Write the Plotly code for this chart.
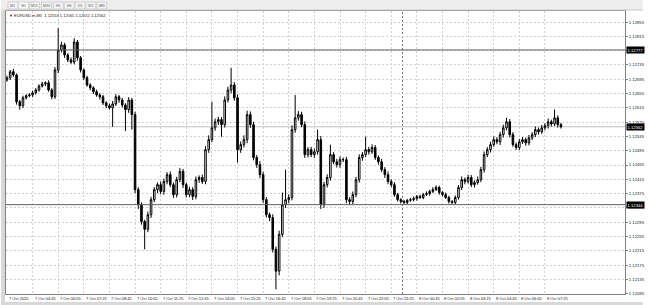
import plotly.graph_objects as go
import pandas as pd

# ---- data (EURUSD.m M5 chart, sampled as 10-minute candles) ----
# prices stored in points: price = 1 + pts / 100000
first_open_pts = 12693
close_pts = [
    12699, 12716, 12707, 12632, 12621, 12643, 12649, 12651, 12657, 12665,
    12676, 12682, 12685, 12665, 12646, 12721, 12777, 12791, 12763, 12749,
    12743, 12799, 12755, 12721, 12699, 12679, 12671, 12660, 12651, 12646,
    12629, 12621, 12615, 12626, 12646, 12637, 12623, 12610, 12637, 12596,
    12386, 12344, 12297, 12275, 12316, 12358, 12386, 12400, 12381, 12409,
    12428, 12400, 12372, 12414, 12437, 12400, 12372, 12386, 12367, 12414,
    12420, 12409, 12498, 12526, 12559, 12576, 12582, 12568, 12637, 12665,
    12679, 12643, 12498, 12512, 12526, 12596, 12568, 12476, 12456, 12428,
    12358, 12316, 12308, 12219, 12158, 12261, 12344, 12358, 12364, 12554,
    12587, 12596, 12568, 12484, 12498, 12484, 12492, 12526, 12344, 12400,
    12420, 12484, 12464, 12456, 12470, 12470, 12358, 12353, 12372, 12414,
    12476, 12484, 12498, 12492, 12504, 12476, 12464, 12442, 12428, 12409,
    12400, 12372, 12358, 12353, 12350, 12356, 12358, 12361, 12367, 12364,
    12372, 12375, 12381, 12386, 12392, 12378, 12372, 12364, 12353, 12350,
    12364, 12392, 12414, 12409, 12420, 12400, 12406, 12414, 12442, 12484,
    12498, 12512, 12526, 12520, 12540, 12559, 12576, 12540, 12512, 12504,
    12520, 12526, 12517, 12531, 12540, 12554, 12548, 12559, 12565, 12576,
    12570, 12587, 12568, 12562,
]
wick_hi = [
    6, 5, 8, 4, 5, 6, 4, 5, 6, 5,
    5, 6, 4, 7, 5, 8, 61, 9, 6, 5,
    7, 11, 6, 5, 4, 6, 5, 4, 6, 5,
    5, 4, 6, 8, 7, 5, 6, 5, 8, 6,
    8, 7, 6, 5, 9, 8, 7, 6, 9, 8,
    7, 9, 6, 8, 10, 7, 6, 8, 7, 9,
    6, 8, 10, 12, 73, 9, 8, 7, 10, 9,
    48, 8, 10, 9, 12, 11, 9, 8, 7, 10,
    8, 7, 6, 9, 8, 10, 34, 84, 9, 12,
    64, 10, 8, 9, 7, 8, 9, 28, 10, 8,
    9, 28, 7, 8, 9, 6, 8, 7, 9, 8,
    9, 7, 36, 8, 9, 7, 6, 8, 7, 9,
    6, 7, 5, 4, 5, 4, 5, 6, 4, 5,
    5, 6, 5, 7, 6, 5, 4, 6, 5, 4,
    6, 7, 9, 6, 8, 7, 6, 9, 8, 9,
    7, 8, 9, 7, 8, 9, 11, 8, 7, 6,
    8, 7, 6, 8, 7, 9, 6, 8, 7, 9,
    6, 23, 7, 5,
]
wick_lo = [
    5, 6, 5, 8, 11, 6, 5, 4, 6, 5,
    5, 4, 6, 5, 7, 6, 9, 7, 8, 6,
    5, 6, 8, 7, 6, 5, 7, 6, 5, 8,
    6, 7, 5, 53, 6, 8, 7, 60, 9, 42,
    10, 12, 9, 56, 8, 9, 7, 10, 8, 9,
    8, 7, 9, 8, 7, 9, 8, 7, 10, 8,
    9, 7, 8, 9, 7, 8, 9, 34, 8, 7,
    9, 8, 36, 9, 8, 10, 9, 8, 9, 10,
    9, 8, 10, 9, 51, 12, 8, 9, 10, 8,
    9, 8, 7, 9, 8, 7, 9, 8, 12, 9,
    8, 9, 7, 8, 9, 7, 10, 9, 8, 7,
    8, 9, 7, 8, 6, 7, 8, 7, 9, 8,
    7, 6, 5, 6, 4, 5, 4, 5, 6, 4,
    5, 4, 6, 5, 4, 6, 5, 4, 6, 5,
    5, 6, 7, 8, 6, 7, 8, 6, 7, 8,
    7, 8, 6, 7, 9, 8, 7, 8, 6, 7,
    7, 6, 8, 7, 6, 7, 8, 6, 7, 8,
    7, 6, 8, 5,
]
start_time = "2015-10-07 03:25"
bar_freq = "10min"

time_ticks_start = "2015-10-07 03:25"
time_tick_freq = "80min"
time_tick_labels = [
    "7 Oct 2015", "7 Oct 04:45", "7 Oct 06:05", "7 Oct 07:25", "7 Oct 08:45",
    "7 Oct 10:05", "7 Oct 11:25", "7 Oct 12:45", "7 Oct 14:05", "7 Oct 15:25",
    "7 Oct 16:45", "7 Oct 18:05", "7 Oct 19:25", "7 Oct 20:45", "7 Oct 22:05",
    "7 Oct 23:25", "8 Oct 00:45", "8 Oct 02:05", "8 Oct 03:25", "8 Oct 04:45",
    "8 Oct 06:05", "8 Oct 07:25",
]
price_ticks = [
    1.12855, 1.12815, 1.12775, 1.12735, 1.12695, 1.12655, 1.12615, 1.12575,
    1.12535, 1.12495, 1.12455, 1.12415, 1.12375, 1.12335, 1.12295, 1.12255,
    1.12215, 1.12175, 1.12135, 1.12095,
]
hlines = [1.12777, 1.12344]
bid_price = 1.12562
separator_time = "2015-10-08 00:00"
header_text = "\u25bc EURUSD.m,M5  1.12553 1.12565 1.12551 1.12562"
tabs = ["M1", "M5", "M15", "M30", "H1", "H4", "D1", "W1", "MN"]

# ---- build OHLC ----
closes = [1 + p / 1e5 for p in close_pts]
opens = [1 + first_open_pts / 1e5] + closes[:-1]
highs = [max(o, c) + w / 1e5 for o, c, w in zip(opens, closes, wick_hi)]
lows = [min(o, c) - w / 1e5 for o, c, w in zip(opens, closes, wick_lo)]
times = pd.date_range(start_time, periods=len(closes), freq=bar_freq)
tick_times = pd.date_range(time_ticks_start, periods=len(time_tick_labels), freq=time_tick_freq)

# ---- layout geometry (pixels) ----
FW, FH = 650, 305
L, R, T, B = 5, 632, 11, 294
PW, PH = R - L, B - T


def px(x):
    return (x - L) / PW


def py(y):
    return 1 - (y - T) / PH


FONT = "Liberation Sans"
TXT = "#202020"

fig = go.Figure()
fig.add_trace(go.Candlestick(
    x=times, open=opens, high=highs, low=lows, close=closes,
    increasing=dict(line=dict(color="#000000", width=1), fillcolor="#ffffff"),
    decreasing=dict(line=dict(color="#000000", width=1), fillcolor="#000000"),
    whiskerwidth=0, showlegend=False, hoverinfo="skip",
))

shapes = []
# horizontal user lines
for h in hlines:
    shapes.append(dict(type="line", xref="paper", x0=0, x1=1, yref="y", y0=h, y1=h,
                       line=dict(color="#606060", width=1), layer="above"))
# bid line
shapes.append(dict(type="line", xref="paper", x0=0, x1=1, yref="y", y0=bid_price, y1=bid_price,
                   line=dict(color="#c0c0c0", width=1), layer="below"))
# period separator
shapes.append(dict(type="line", xref="x", x0=separator_time, x1=separator_time, yref="paper", y0=0, y1=1,
                   line=dict(color="#707070", width=1, dash="2px,2px"), layer="below"))
# toolbar background
shapes.append(dict(type="rect", xref="paper", x0=px(0), x1=px(FW), yref="paper", y0=py(0), y1=py(10),
                   fillcolor="#eeeeee", line=dict(width=0), layer="below"))
shapes.append(dict(type="line", xref="paper", x0=px(0), x1=px(FW), yref="paper", y0=py(10), y1=py(10),
                   line=dict(color="#c8c8c8", width=1)))
# left gray border
shapes.append(dict(type="rect", xref="paper", x0=px(0), x1=px(4), yref="paper", y0=py(11), y1=py(305),
                   fillcolor="#d8d8d8", line=dict(width=0)))
# bottom gray band
shapes.append(dict(type="rect", xref="paper", x0=px(0), x1=px(FW), yref="paper", y0=py(302), y1=py(306),
                   fillcolor="#d8d8d8", line=dict(width=0)))

annotations = []
# tabs
tab_x = [7, 18, 29, 41, 53, 64, 75, 86, 97]
for i, (name, x0) in enumerate(zip(tabs, tab_x)):
    shapes.append(dict(type="rect", xref="paper", x0=px(x0), x1=px(x0 + 10), yref="paper",
                       y0=py(2), y1=py(9), fillcolor="#ffffff" if name == "M5" else "#f4f4f4",
                       line=dict(color="#d0d0d0", width=1)))
    annotations.append(dict(xref="paper", yref="paper", x=px(x0 + 5), y=py(5.5), text=name,
                            showarrow=False, xanchor="center", yanchor="middle",
                            font=dict(size=3.6, color="#606060", family=FONT)))
# header
annotations.append(dict(xref="paper", yref="paper", x=px(6), y=py(15.5), text=header_text,
                        showarrow=False, xanchor="left", yanchor="middle",
                        font=dict(size=4, color=TXT, family=FONT)))
# time labels (left aligned at tick)
for t, lab in zip(tick_times, time_tick_labels):
    annotations.append(dict(xref="x", yref="paper", x=t, y=py(298), text=lab, showarrow=False,
                            xanchor="left", yanchor="middle", xshift=0,
                            font=dict(size=4, color=TXT, family=FONT)))
# price boxes
for p in hlines + [bid_price]:
    annotations.append(dict(xref="paper", yref="y", x=1, y=p, text=f"{p:.5f}", showarrow=False,
                            xanchor="left", yanchor="middle", xshift=1,
                            bgcolor="#000000", borderpad=0.5,
                            font=dict(size=4.2, color="#ffffff", family=FONT)))

fig.update_layout(
    width=FW, height=FH,
    margin=dict(l=L, r=FW - R, t=T, b=FH - B),
    paper_bgcolor="#ffffff", plot_bgcolor="#ffffff",
    shapes=shapes, annotations=annotations,
    xaxis=dict(
        type="date", range=["2015-10-07 03:22", "2015-10-08 11:35"],
        tickvals=list(tick_times), showticklabels=False,
        showgrid=True, gridcolor="#cfcfcf", griddash="2px,2px", gridwidth=1,
        rangeslider=dict(visible=False),
        showline=True, linecolor="#808080", linewidth=1, mirror=True,
        zeroline=False, fixedrange=True,
    ),
    yaxis=dict(
        side="right", range=[1.12094, 1.12886],
        tickvals=price_ticks, ticktext=[f"{v:.5f}" for v in price_ticks],
        ticks="outside", ticklen=2, tickcolor="#808080",
        tickfont=dict(size=4.2, color=TXT, family=FONT),
        showgrid=True, gridcolor="#cfcfcf", griddash="2px,2px", gridwidth=1,
        showline=True, linecolor="#808080", linewidth=1, mirror=True,
        zeroline=False, fixedrange=True,
    ),
)

fig.write_html("out.html")
